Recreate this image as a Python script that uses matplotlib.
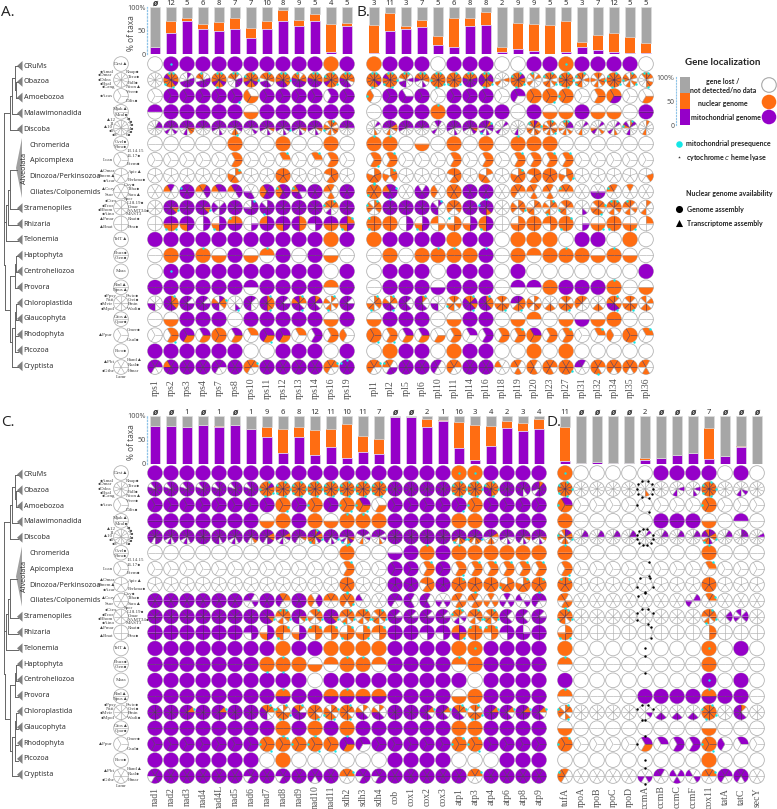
#python 3
import math
import matplotlib
matplotlib.use("Agg")
import matplotlib.pyplot as plt
from matplotlib.patches import Wedge, Circle, Polygon

purple = "#9500c8"
orange = "#ff6d12"
gray = "#a6a6a6"
cyan = "#13e6e6"
fills = {"p": purple, "o": orange, "w": "white", "k": "white"}

taxa = ["CRuMs", "Obazoa", "Amoebozoa", "Malawimonadida", "Discoba", "Chromerida", "Apicomplexa",
        "Dinozoa/Perkinsozoa", "Ciliates/Colponemids", "Stramenopiles", "Rhizaria", "Telonemia",
        "Haptophyta", "Centroheliozoa", "Provora", "Chloroplastida", "Glaucophyta", "Rhodophyta",
        "Picozoa", "Cryptista"]
n_slices = [1, 10, 3, 2, 12, 2, 3, 5, 6, 8, 4, 1, 2, 1, 2, 8, 2, 3, 1, 6]
start_angle = {2: 180, 3: 120, 4: 90, 5: 90, 6: 120, 8: 90, 10: 90, 12: 90, 1: 90}

genes_a = ["rps1", "rps2", "rps3", "rps4", "rps7", "rps8", "rps10", "rps11", "rps12", "rps13", "rps14", "rps16", "rps19"]
counts_a = [0, 12, 5, 6, 8, 7, 7, 10, 8, 9, 5, 4, 5]
mito_a = [15, 45, 71, 54, 50, 54, 35, 54, 70, 60, 70, 4, 60]
nuc_a = [0, 25, 6, 11, 19, 24, 21, 16, 25, 13, 16, 61, 7]
cells_a = [
    "w P p p p p p p p p p o p",
    "w OoopOoOopO pwpppppwww wwpppppwoO OoopoOpooO OwpppwwwoO OoOpoopoOo Ooowpppwoo OoOopppooO woopppppoO OoopppppoO OooOoopoOo OoowppppoO",
    "w p p p p pPp woo p p p p ppw p",
    "pw p p p p p wo p p p p p p",
    "wppwwwwwwwww pppwpwwpwppp pppoowpwwppp pppwwwwwwppp pppwwpwwpppp ppppwOowwppp pppwpwwwwppp pppowpwwpppp pppPwpwwpppp pppowpwwpppp pppowpwwpppp OowoowowOowo pppwwwwwwppp",
    "w w w w w o w w o w w o w",
    "w w w w w oow w w Oww w Oww oow w",
    "w w w w w Owoow w w o w w ooowo w",
    "w pwwwwo pppppP oppwwo ppwwwo pppwwo wwwppw ppppoo ppppoO ppwppO p owwowo p",
    "w ppOppppp p ppOppppp wpppwppw p Ppppppww ppppPppw p p p OowwpwOo p",
    "w pOOp ppop ppww ppOw oppO wpww pppo ppop oopp ppwp poop OpOp",
    "p p p p p p p p p p p o p",
    "w o p Oo wo p wo Ow p w p wo w",
    "w P p p p p p p p p p w p",
    "p p p p p p pw p p p p ow p",
    "wwwwppww Oooppppp pwpppppp pwpppppp pOowppow wwwPwwww pwwwpppp OooOpppp pwpppppp OowPppop opwppppp OwowOwow pwpppppp",
    "w wo p p p w p p p p p wo p",
    "w oOw pop pow ooo pow oww pOp pop oww ppw oow wwo",
    "p p p p p p w w p p p w p",
    "ppwwpp pppppo p p ppwwpp p oOwwoo p p p p oOwwoo Ppppp",
]

genes_b = ["rpl1", "rpl2", "rpl5", "rpl6", "rpl10", "rpl11", "rpl14", "rpl16", "rpl18", "rpl19", "rpl20", "rpl23", "rpl27", "rpl31", "rpl32", "rpl34", "rpl35", "rpl36"]
counts_b = [3, 11, 3, 7, 5, 6, 8, 8, 2, 9, 9, 5, 5, 3, 7, 12, 5, 5]
mito_b = [2, 49, 54, 59, 20, 16, 60, 62, 4, 11, 7, 1, 4, 16, 9, 5, 3, 3]
nuc_b = [60, 39, 6, 13, 19, 61, 17, 28, 12, 55, 58, 61, 66, 10, 32, 40, 34, 21]
cells_b = [
    "o p p p w p p p w w p p O p p p p w",
    "OoopoOoooO OoOoOoOopO OwpwwppwoO OoowpwwpoO OooOoOoOoO OooOooOooo OoppppppoO OppOoOpppO wwowwwowww OpoOoOooOo wowwwwowwO OowOwoowOo OoOoOoOoOo OwowwoOwOo owOowowowo OooOoOooOo OowOwowOow OowoOwwwwO",
    "wwO p wpp p w p p p w pwp o oOo ooO w oow opo w wow",
    "w p p p Oo p p p p w p wo wo p wo wo w p",
    "wpwwwowwwwww ppoowwowwppp pppwwwwwpppp pppwwwwwwppp pwwwwwwpwwwp pppwwpwwpppp pppopwwwpppp pOppwpwPwppp wpwwwwwpwwww wwwwwwpwwwww poOwoowoowOo OowoOwowoowo OppwowowowwO wpwwwwowwwww wpwwowwpowww wpwwwowpwwww OpwwwwpwwOpw owwwwwowwwww",
    "Oo Oo w wo w o w o w Oo o o w w w w w w",
    "oOw Oow w w w oow w oow w Oow oow Oow Oow w w w w w",
    "ooOow Oowow w w w ooowo w owoow w Oooow ooowo o oOwow w w w w wowww",
    "OoooOo pPpPpo w wppppp wwwwoo o p pppPpp w oowwoo owwowo owwowo oowwwO w wwpppw owwwwO owwwww w",
    "OoowwoOw p p p Pwwwpppw ooowwooo p pppoppPp w ooOwwoow oowwooww OowwOwow oowwoOwo wwwpwwww oOwOoowo OoowowoO owowowoO owwwowww",
    "ooOO oooo ppww ppOw wowo oooW ppow ppOo w ooow oooo oowo OoOo wpww wOow ooOo wOow owww",
    "o p p p p o p p w o o o w p p w o w",
    "w o w o Oo Oo o Pp w o ow o Oo o wo Oo wo w",
    "w p p p w p p p w p w w w w w w w p",
    "w p p p wp p p p w pw pw o p p p Oo w wo",
    "OoowOoww OowPppow pwwppppp Owwppppp wwwwppww owowoOwo OpoPpppo Oooppppp owoOoowo pooOowpp owoowoow wwwoowww owoOoowo owwwwooo wwwoowww OwoPppoo owoOoowo wowoowwo",
    "wo p p p w wo p p w wo ow w wo wp wo o w w",
    "oOo oOw pow pow wow oow pww ppw oow Oow poo oow Oow w Oww wwo oOo Oww",
    "w o p p w o p p w w o w o w w w w w",
    "oOwwoo owppwO p p pwwwpp oowwoo p p wwwwwo owwowo owwooo oowooo ooOooo pwwwwp oowOoo ooowoo ooowoo owwowo",
]

genes_c = ["nad1", "nad2", "nad3", "nad4", "nad4L", "nad5", "nad6", "nad7", "nad8", "nad9", "nad10", "nad11", "sdh2", "sdh3", "sdh4", "cob", "cox1", "cox2", "cox3", "atp1", "atp3", "atp4", "atp6", "atp8", "atp9"]
counts_c = [0, 0, 1, 0, 1, 0, 1, 9, 6, 8, 12, 11, 10, 11, 7, 0, 0, 2, 1, 16, 3, 4, 2, 3, 4]
mito_c = [80, 79, 77, 81, 78, 81, 73, 57, 22, 57, 19, 36, 12, 24, 21, 97, 98, 78, 90, 33, 9, 38, 75, 69, 73]
nuc_c = [0, 0, 1, 0, 1, 0, 0, 20, 50, 20, 52, 37, 71, 34, 32, 0, 0, 15, 2, 54, 72, 42, 15, 16, 21]
cells_c = [
    "p p p p p p p p p p p p p p p p p p p O O p p p p",
    "ppppppppwp ppppppppwp ppppppppwp ppppppppwp ppppppppwp ppppppppwp ppppppppwp OpoOoOoOoo OoOoOoOoOo OoOoOoOoOo OoOoOoOoOo OoOoOoOoOo OoOoOoOoOo OoOoOoOoOo OoOoOoOoOo p p p p OoOoOoOoOo OoOoOoOoOo OoOoOpppOo p ppppwppppp opppppwppp",
    "p p p p p p p p oOo p ooO p oOO pOO wow p p p p pPp ooO p p p p",
    "p p p p p p p wo o p o wo Oo Oo o p p p p o o p p p p",
    "ppppppwppppp pppppwpwpppp pppppwpwpppp p pppppwpppppp pppppwpwpppp ppppowwppppp ppooppwppppp ppopwwpwpppp pppowwwppppp OpoOpwoOoppp pppPwpwppppp pppopOwPwppp ppwpwwowwwpp ppwpwowwwppp p p p p pppPoowOpppp pppPoowoOppp ppowwoowwppp pppwwpwwpppp pppowpwppppp pppowpwwpppp",
    "w w w w w w w w w w w w Oo w w wp p Oo p Oo o o o o o",
    "w w w w w w w w w w w w Oow w w p p Oow p oOw Oow Oow Oow Oow Oow",
    "w w w w w w w w w w w w ooOoo w w p p ooowo p Ooooo ooOoo o oooOw Oooow OoOoo",
    "p p p p p p pwpwwp p oowwpp p wppwoo oowwwo OoOwoo wwwwwp w ppwwpp pwwppp pwwppp wwpwpw owoOwo owoowo owowow pwpwpw wwpwwp ppwwpp",
    "p p p p p p p ppOppppp OoOwowoO ppOwpppp OoOwwowo ppOppppp OoOwOwoo OoOwowoo OoOwoOwo pwpppppp pwpppppp pwpppppp pwpppppp OwpwpwOo OoOwowoo OoOwoOwo pwwppppp pwwppppp pwpppppp",
    "p p p p p p ppwp ppow OwOo ppow OowO Oowo OoOw OOow Oowo p p ppwp ppwp pOpo OooO OowO ppwp wppp p",
    "p p p p p p p p o p p o o o o p p p p o O p p p p",
    "p p p p p p p oO OO o wo ow Oo Oo ow p p p p Ow o p p p p",
    "p p p p p p p p p p w p p p p p p p p p w p p p p",
    "p p p p p p p p Op p p op Op op op p p p p wo o p p p p",
    "p p pOpppppp p pOpppppp p p OOwwpppo OwOoOoOw Owpppppo oowOoooo oOwOoOow OowOoooo owwpppow owwpppow p p pOwppppp pOwppppp OOwppppo OwOoOowo pOpppppp pOwppppp pOpppppp pOwppppp",
    "p p p p p p p p oO p oO p oO p p p p p p o o p p p p",
    "p p p p p p p oOO Ooo ooO oOO oOo pop pwp p p p p p OoO OOO p p p p",
    "p p p p p p p w o w w w w w w p p p p w w w p p p",
    "ppppwp p p p p p ppppwp p ppppwp p pppwpp p oOwwwo ppppwp ppppwp p p p p p oOwwwo p p p p",
]

genes_d = ["tufA", "rpoA", "rpoB", "rpoC", "rpoD", "ccmA", "ccmB", "ccmC", "ccmF", "cox11", "tatA", "tatC", "secY"]
counts_d = [11, 0, 0, 0, 0, 2, 0, 0, 0, 7, 0, 0, 0]
mito_d = [6, 2, 4, 2, 2, 9, 12, 19, 22, 10, 16, 35, 1]
nuc_d = [72, 0, 0, 0, 0, 3, 0, 0, 0, 65, 0, 2, 0]
cells_d = [
    "O w w w w w p p p p w p w",
    "OoOoOoOoOo w w w w kkkkokkkkk w wwpwwpwwww wwpwpwwwww OoOoOoOoOo w wwwpwpwwww w",
    "poO w w w w kkk w w w ooO w w w",
    "o w w w w w p p p wo w pw w",
    "ppoOwoowoOwo wppwwwwwwwww wppwwwwwwwww wppwwwwwwwww wppwwwwwwwww kpkkkkkkkkkk wppwwwwwwwww wppwwwwwwwww wppwwwwwwwww ppoOwpoOwppo wppwwwwwwwww pppwwwwwwwww wwpwwwwwwwww",
    "Oo w w w w w w w w Oo w w w",
    "oOw w w w w kkw w w w Oww w w w",
    "OoooO w w w w k w w w o w w w",
    "owoOwo w w w w kwwwwk w w wpwwpw oOwwww w w w",
    "OoOwoOoo w w w w kkwkwkkk w w w OoOwOwoo wppwwwww wppwwpwp w",
    "oOOw w w w w kkww w w w ooww w w w",
    "o w w w w k w w w O w p w",
    "Ow w w w w k w w w o w w w",
    "p w w w w w w w w P w p w",
    "Ow w w w w p p p p Op p p w",
    "OowOwoOw w w w w kkpwkwkk wwwppwww wwwppwww wwwppwww OoOoOoOo w owwppppp w",
    "wo w w w w k w w w wo w w w",
    "OoO w w w w pok pww ppw ppw oOO wwp pww w",
    "w w w w w k w w w o w w w",
    "owwwoO w w w w kwpkpw pwwwwp wpwpwp wwpwwp oOwwwo ppwwpp pppwpp w",
]

mini_labels = [
    (0, 0, 0, "Dest▲"),
    (1, -7, -8, "●Amal"), (1, -9, -5, "●Dmar"), (1, -10, 0, "●Ddea"), (1, -9, 4, "●Bsal"), (1, -6, 7, "●Cang"),
    (1, 5, -8, "Rnap●"), (1, 7, -3, "Tcru●"), (1, 7, 3, "Fall●"), (1, 5, 7, "Ncon▲"),
    (2, -8, 0, "●Acas"), (2, 5, -4, "Vver●"), (2, 5, 5, "Ddis●"),
    (3, 0, -3, "Mjak▲"), (3, 0, 3, "Mcal●"),
    (4, -5, -8, "▲12"), (4, -7, -4, "11"), (4, -8, -1, "▲10"), (4, -7, 3, "●9"), (4, -4, 7, "●8"),
    (4, 5, -9, "1●"), (4, 7, -6, "2●"), (4, 8, -3, "3●"), (4, 8, 1, "4●"), (4, 7, 4, "5●"), (4, 5, 7, "6●"),
    (5, 0, -2, "Cvel●"), (5, 0, 3, "Vbra●"),
    (6, -8, 0, "Lcan"), (6, 6, -9, "13.14.15"), (6, 6, -4, "16.17●"), (6, 6, 4, "Etem●"),
    (7, -6, -5, "▲Omar"), (7, -5, 0, "Hmem▲"), (7, -6, 5, "●Acar"), (7, 7, -4, "Apic▲"), (7, 7, 4, "Perkma●"),
    (8, -5, -3, "▲Ccry"), (8, -7, 3, "Ssor"), (8, 3, -7, "Oxy●"), (8, 7, -3, "Ttha●"), (8, 7, 3, "Sara▲"), (8, 3, 7, "Sper"),
    (9, -4, -7, "●Ctex"), (9, -7, -2, "●Tcor"), (9, -8, 2, "●Bhom"), (9, -6, 6, "●Aino"),
    (9, 6, -5, "L18.19●"), (9, 7, -1, "Cmar"), (9, 7, 3, "SAMT34●"), (9, 5, 6, "MAST3"),
    (10, -7, -5, "▲Pmar"), (10, -7, 4, "▲Bnat"), (10, 7, -5, "Rnat●"), (10, 7, 4, "Ptra●"),
    (11, 0, 0, "TelT▲"),
    (12, 0, -2, "Ehux●"), (12, 0, 3, "Cten●"),
    (13, 0, 0, "Mara"),
    (14, 0, -2, "Rinl▲"), (14, 0, 3, "Npus▲"),
    (15, -5, -7, "●Ppsy"), (15, -7, -3, "Nsti"), (15, -8, 1, "●Mvir"), (15, -6, 6, "●Mpol"),
    (15, 5, -7, "Pwic●"), (15, 7, -3, "Crei●"), (15, 7, 1, "Pmin"), (15, 6, 6, "Wadi●"),
    (16, 0, -2, "Gfos▲"), (16, 0, 3, "Cpar●"),
    (17, -8, 0, "▲Ppur"), (17, 6, -5, "Cmer●"), (17, 6, 5, "Gsul●"),
    (18, 0, 0, "Pico●"),
    (19, -6, -5, "▲Pbi"), (19, -7, 4, "●Gthe"), (19, 6, -7, "Hand▲"), (19, 7, -2, "Rsal●"), (19, 7, 4, "Hmar"), (19, 0, 10, "Lamr"),
]

# tree branches in pixels, measured for the panel A rows
tree_lines = [
    (14.5, 66, 18, 66), (16, 82, 18, 82), (16, 98, 18, 98), (12, 114, 18, 114), (10, 130, 18, 130),
    (14.5, 66, 14.5, 90), (16, 82, 16, 98), (14.5, 90, 16, 90), (12, 78, 12, 114), (12, 78, 14.5, 78),
    (10, 96, 10, 130), (10, 96, 12, 96), (3.5, 113, 10, 113), (3.5, 113, 3.5, 265),
    (10, 170, 17, 170), (10, 209, 18, 209), (8, 225, 18, 225), (6, 241, 18, 241),
    (10, 170, 10, 209), (8, 190, 8, 225), (8, 190, 10, 190), (6, 205, 6, 241), (6, 205, 8, 205), (3.5, 222, 6, 222),
    (16, 256, 18, 256), (15, 272, 18, 272), (15, 288, 18, 288), (16, 304, 18, 304), (16, 320, 18, 320),
    (15, 336, 18, 336), (15, 352, 18, 352), (12, 367, 18, 367),
    (16, 256, 16, 272), (15, 264, 15, 288), (10, 276, 10, 342), (10, 276, 15, 276), (16, 304, 16, 320),
    (15, 312, 15, 344), (15, 336, 15, 352), (12, 328, 12, 367), (12, 328, 15, 328), (10, 342, 12, 342), (5, 265, 5, 310), (5, 310, 10, 310), (3.5, 265, 5, 265),
]

W, H = 777, 809
fig = plt.figure(figsize=(W / 100, H / 100), dpi=100)
bg = fig.add_axes([0, 0, 1, 1])
bg.set_xlim(0, W)
bg.set_ylim(H, 0)
bg.axis("off")


def px_axes(x0, y0, x1, y1):
    ax = fig.add_axes([x0 / W, 1 - y1 / H, (x1 - x0) / W, (y1 - y0) / H])
    ax.patch.set_alpha(0)
    return ax


def draw_pie(ax, x, y, n, tok, R=0.46):
    tok = (tok * n)[:n]
    step = 360.0 / n
    a0 = start_angle[n]
    ax.add_patch(Circle((x, y), R, fc="white", ec="#b4b4b4", lw=0.6, clip_on=False))
    dots = []
    for i, c in enumerate(tok):
        hi = a0 - i * step
        lo = hi - step
        # y axis runs downward in these axes, so angles are flipped
        if c.lower() in "po":
            ax.add_patch(Wedge((x, y), R, -hi, -lo, fc=fills[c.lower()], ec="none", clip_on=False))
        if c.isupper() or c == "k":
            mid = math.radians((hi + lo) / 2)
            r = 0 if n == 1 else (R * 1.0 if c != "k" else R * 1.12)
            dots.append((x + r * math.cos(mid), y - r * math.sin(mid), "k" if c == "k" else "c"))
    if n > 1:
        for i in range(n):
            a = math.radians(a0 - i * step)
            nb = tok[i].lower() + tok[i - 1].lower()
            col = "#a6a6a6" if ("w" in nb or "k" in nb) else "#4a3050"
            ax.plot([x, x + R * math.cos(a)], [y, y - R * math.sin(a)], color=col, lw=0.4, clip_on=False, solid_capstyle="butt")
    for dx, dy, k in dots:
        ax.scatter(dx, dy, s=3, color="black" if k == "k" else cyan, zorder=5, clip_on=False, linewidths=0)


def draw_panel(x_first, y_first, top, base, genes, counts, mito, nuc, cells, axis=False):
    cols = len(genes)
    x0 = x_first - 8
    x1 = x_first + 16 * (cols - 1) + 8
    y0 = y_first - 7.975
    y1 = y_first + 15.95 * 19 + 7.975

    axb = px_axes(x0, top, x1, base)
    xs = list(range(cols))
    rest = [100 - m - n for m, n in zip(mito, nuc)]
    bot2 = [m + n for m, n in zip(mito, nuc)]
    axb.bar(xs, mito, 0.62, color=purple, edgecolor="#e2d6e8", linewidth=0.5)
    axb.bar(xs, nuc, 0.62, bottom=mito, color=orange, edgecolor="none")
    axb.bar(xs, rest, 0.62, bottom=bot2, color=gray, edgecolor="#dddddd", linewidth=0.5)
    axb.set_xlim(-0.5, cols - 0.5)
    axb.set_ylim(0, 100)
    axb.set_xticks([])
    for s in ["top", "right", "bottom"]:
        axb.spines[s].set_visible(False)
    if axis:
        axb.spines["left"].set_color("#8fc4e8")
        axb.spines["left"].set_linestyle(":")
        axb.spines["left"].set_linewidth(0.9)
        axb.set_yticks([0, 50, 100])
        axb.set_yticklabels(["0", "50", "100%"], fontsize=5.2, color="#555555", family="Noto Sans")
        axb.tick_params(axis="y", length=0, pad=1)
        axb.text(-1.5, 46, "% of taxa", rotation=90, ha="center", va="center", fontsize=6, color="#555555", family="Noto Sans", clip_on=False)
    else:
        axb.spines["left"].set_visible(False)
        axb.set_yticks([])
    for i, c in enumerate(counts):
        if c == 0:
            axb.text(i, 108, "ø", ha="center", va="center", fontsize=5.5, style="italic", weight="bold", color="#333333", clip_on=False)
        else:
            axb.text(i, 108, str(c), ha="center", va="center", fontsize=5.5, weight="bold", color="#333333", clip_on=False, family="Noto Sans")

    ax = px_axes(x0, y0, x1, y1)
    ax.set_xlim(-0.5, cols - 0.5)
    ax.set_ylim(19.5, -0.5)
    ax.axis("off")
    for r, row in enumerate(cells):
        toks = row.split()
        assert len(toks) == cols, (genes[0], r, len(toks))
        for c, tok in enumerate(toks):
            draw_pie(ax, c, r, n_slices[r], tok)
    for c, g in enumerate(genes):
        ax.text(c, 19 + 21 / 16, g, rotation=90, ha="center", va="center", fontsize=7, color="#555555", family="Liberation Serif", clip_on=False)
    return ax


def draw_side(ax, off):
    # little key pies between the tree and the grid
    for r in range(20):
        draw_pie(ax, -34 / 16, r, n_slices[r], "w", R=0.46)
    for r, dx, dy, t in mini_labels:
        ha = "center" if dx == 0 else ("right" if dx < 0 else "left")
        ax.text(-34 / 16 + dx / 16, r + dy / 16, t, ha=ha, va="center", fontsize=3.6, color="#444444",
                family=["Liberation Serif", "DejaVu Sans"], clip_on=False)
    for x0, y0, x1, y1 in tree_lines:
        bg.plot([x0, x1], [y0 + off, y1 + off], color="#666666", lw=0.7, solid_capstyle="projecting")
    for r, t in enumerate(taxa):
        lab_y = 66 + 15.8 * r + off
        if 5 <= r <= 8:
            bg.text(29.5, lab_y, t, ha="left", va="center", fontsize=5.2, color="#333333", family="Noto Sans")
        else:
            bg.text(23.5, lab_y, t, ha="left", va="center", fontsize=5.2, color="#333333", family="Noto Sans")
            bg.add_patch(Polygon([(17, lab_y), (22.5, lab_y - 5), (22.5, lab_y + 5)], fc="#808080", ec="none"))
    bg.add_patch(Polygon([(16, 168 + off), (22, 138 + off), (22, 198 + off)], fc="#a0a0a0", ec="none"))
    bg.text(24.5, 168 + off, "Alveolata", rotation=90, ha="center", va="center", fontsize=5.2, color="#333333", family="Noto Sans")


ax_a = draw_panel(155, 64, 7.3, 54.3, genes_a, counts_a, mito_a, nuc_a, cells_a, axis=True)
draw_panel(374, 64, 7.3, 54.3, genes_b, counts_b, mito_b, nuc_b, cells_b)
ax_c = draw_panel(155, 473, 416, 464, genes_c, counts_c, mito_c, nuc_c, cells_c, axis=True)
draw_panel(565, 473, 416, 464, genes_d, counts_d, mito_d, nuc_d, cells_d)
draw_side(ax_a, 0)
draw_side(ax_c, 408.5)

for t, x, y in [("A.", 1, 12), ("B.", 356, 12), ("C.", 1, 422), ("D.", 546, 422)]:
    bg.text(x, y, t, ha="left", va="center", fontsize=11, color="#222222", family="Open Sans")

# key on the right
legend_parts = [34, 33, 33]
legend_cols = [purple, orange, gray]
axl = px_axes(676, 77, 694, 125)
b = 0
for v, col in zip(legend_parts, legend_cols):
    axl.bar([0], [v], 0.55, bottom=b, color=col)
    b += v
axl.set_xlim(-0.5, 0.5)
axl.set_ylim(0, 100)
axl.set_xticks([])
axl.set_yticks([0, 50, 100])
axl.set_yticklabels(["0", "50", "100%"], fontsize=5, color="#555555", family="Noto Sans")
axl.tick_params(axis="y", length=0, pad=1)
for s in ["top", "right", "bottom"]:
    axl.spines[s].set_visible(False)
axl.spines["left"].set_color("#8fc4e8")
axl.spines["left"].set_linestyle(":")

key_font = dict(family="Lato", color="#222222", weight="bold")
bg.text(723, 62, "Gene localization", ha="center", va="center", fontsize=7, **key_font)
bg.text(723, 81, "gene lost /", ha="center", va="center", fontsize=5, **key_font)
bg.text(723, 90, "not detected/no data", ha="center", va="center", fontsize=5, **key_font)
bg.text(723, 103, "nuclear genome", ha="center", va="center", fontsize=5, **key_font)
bg.text(726, 117, "mitochondrial genome", ha="center", va="center", fontsize=5, **key_font)
for y, col in [(85, "white"), (102, orange), (117, purple)]:
    bg.add_patch(Circle((769, y), 7.3, fc=col, ec="#a8a8a8" if col == "white" else "none", lw=0.8))
bg.scatter([679], [144], s=22, color=cyan, linewidths=0)
bg.text(686, 143.5, "mitochondrial presequence", ha="left", va="center", fontsize=5, **key_font)
bg.scatter([679], [157], s=4, color="#333333", marker="*", linewidths=0)
bg.text(686, 157, "cytochrome $\\mathit{c}$ heme lyase", ha="left", va="center", fontsize=5, **key_font)
bg.text(729, 193, "Nuclear genome availability", ha="center", va="center", fontsize=5, **key_font)
bg.scatter([679], [209], s=26, color="black", linewidths=0)
bg.text(687, 209, "Genome assembly", ha="left", va="center", fontsize=5, **key_font)
bg.scatter([679], [223], s=26, color="black", marker="^", linewidths=0)
bg.text(687, 223, "Transcriptome assembly", ha="left", va="center", fontsize=5, **key_font)

fig.savefig("out.png", dpi=100)
